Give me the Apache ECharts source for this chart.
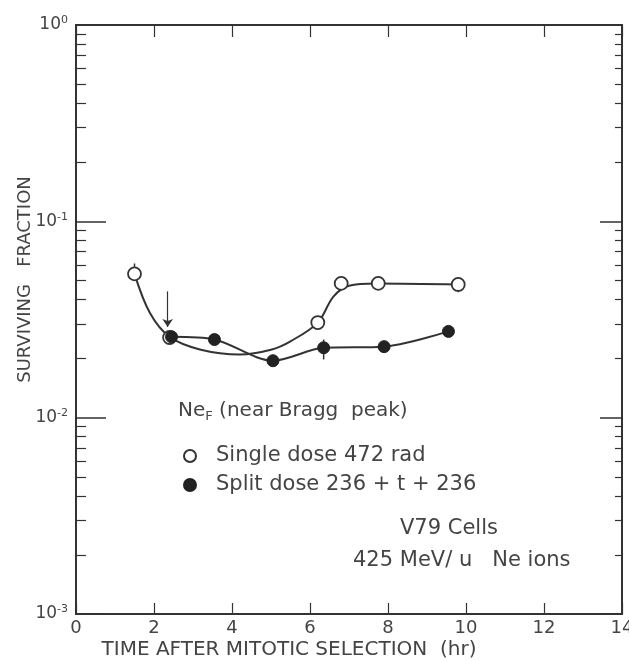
<!DOCTYPE html>
<html>
<head>
<meta charset="utf-8">
<script src="https://cdn.jsdelivr.net/npm/echarts@6/dist/echarts.min.js"></script>
<style>html,body{margin:0;padding:0;background:#fff}#c{width:629px;height:661px}</style>
</head>
<body>
<div id="c"></div>
<script>
// ---- data ----
const singleX = [1.5, 2.4, 6.2, 6.8, 7.75, 9.8];
const singleY = [0.054, 0.0256, 0.0305, 0.0483, 0.0483, 0.0477];
const splitX = [2.45, 3.55, 5.05, 6.35, 7.9, 9.55];
const splitY = [0.0258, 0.025, 0.0195, 0.0227, 0.0230, 0.0275];
// hand-drawn fitted curves
const curveSingleX = [1.5, 1.9, 2.4, 3.2, 4.2, 5.0, 5.5, 6.2, 6.6, 7.0, 7.7, 9.8];
const curveSingleY = [0.054, 0.034, 0.0258, 0.0222, 0.021, 0.0222, 0.0245, 0.0305, 0.0414, 0.047, 0.0483, 0.0477];
const curveSplitX = [2.45, 3.55, 5.05, 6.35, 7.9, 9.55];
const curveSplitY = [0.0258, 0.025, 0.0195, 0.0227, 0.0230, 0.0275];
// error bars
const errX = [1.5, 9.8, 6.35];
const errLo = [0.054, 0.0435, 0.0198];
const errHi = [0.061, 0.052, 0.025];
// arrow marking split time
const arrowX = 2.35;
const arrowTop = 0.044;
const arrowBottom = 0.0290;
// ticks
const xTicks = [0, 2, 4, 6, 8, 10, 12, 14];
const yMajor = [0.001, 0.01, 0.1, 1];
const yMinor = [];
[0.001, 0.01, 0.1].forEach(d => { for (let k = 2; k <= 9; k++) yMinor.push(+(d * k).toPrecision(3)); });
const seriesNames = ['Single dose 472 rad', 'Split dose 236 + t + 236'];

const INK = '#333';
const TXT = '#444';
const FONT = 'DejaVu Sans';

const zip = (a, b) => a.map((v, i) => [v, b[i]]);

function yAxisBase(extra) {
  return Object.assign({
    type: 'log', min: 0.001, max: 1, logBase: 10,
    splitLine: { show: false },
    axisLabel: { show: false },
    axisLine: { show: true, lineStyle: { color: INK, width: 2 } },
  }, extra);
}

const chart = echarts.init(document.getElementById('c'));
chart.setOption({
  backgroundColor: '#fff',
  animation: false,
  textStyle: { fontFamily: FONT },
  grid: { left: 76, top: 25, right: 7, bottom: 47, outerBoundsMode: 'none', containLabel: false },
  legend: {
    orient: 'vertical', left: 178, top: 440, itemGap: 7,
    itemWidth: 42, itemHeight: 12,
    data: seriesNames,
    textStyle: { fontFamily: FONT, fontSize: 21, lineHeight: 22, color: TXT }
  },
  xAxis: [
    {
      type: 'value', min: 0, max: 14, interval: 2, position: 'bottom',
      name: 'TIME AFTER MITOTIC SELECTION  (hr)', nameLocation: 'middle', nameGap: 26,
      nameMoveOverlap: false,
      nameTextStyle: { fontFamily: FONT, fontSize: 20, color: TXT, padding: [0, 120, 0, 0] },
      splitLine: { show: false },
      axisLine: { lineStyle: { color: INK, width: 2 } },
      axisTick: { inside: true, length: 11, lineStyle: { color: INK, width: 1.2 } },
      axisLabel: { fontFamily: FONT, fontSize: 18, color: TXT, margin: 5 }
    },
    {
      type: 'value', min: 0, max: 14, interval: 2, position: 'top',
      splitLine: { show: false },
      axisLine: { lineStyle: { color: INK, width: 2 } },
      axisTick: { inside: true, length: 12, lineStyle: { color: INK, width: 1.2 } },
      axisLabel: { show: false }
    }
  ],
  yAxis: [
    yAxisBase({
      position: 'left',
      name: 'SURVIVING   FRACTION', nameLocation: 'middle', nameGap: 42,
      nameMoveOverlap: false,
      nameTextStyle: { fontFamily: FONT, fontSize: 18, color: TXT, padding: [0, 0, 0, 80] },
      axisTick: { inside: true, length: 30, customValues: yMajor, lineStyle: { color: INK, width: 1.5 } },
      axisLabel: {
        show: true, customValues: yMajor, margin: 8,
        formatter: v => '{b|10}{s|' + Math.round(Math.log10(v)) + '}',
        rich: {
          b: { fontFamily: FONT, fontSize: 17, color: TXT },
          s: { fontFamily: FONT, fontSize: 11, color: TXT, verticalAlign: 'top', padding: [0, 0, 9, 0] }
        }
      }
    }),
    yAxisBase({
      position: 'left',
      axisTick: { inside: true, length: 10, customValues: yMinor, lineStyle: { color: INK, width: 1.2 } }
    }),
    yAxisBase({
      position: 'right',
      axisTick: { inside: true, length: 22, customValues: yMajor, lineStyle: { color: INK, width: 1.5 } }
    }),
    yAxisBase({
      position: 'right',
      axisTick: { inside: true, length: 7, customValues: yMinor, lineStyle: { color: INK, width: 1.2 } }
    })
  ],
  graphic: [
    {
      type: 'text', left: 178, top: 401,
      style: {
        text: '{a|Ne}{s|F}{a| (near Bragg  peak)}',
        rich: {
          a: { fontFamily: FONT, fontSize: 20, fill: TXT },
          s: { fontFamily: FONT, fontSize: 13, fill: TXT, padding: [12, 0, 0, 0] }
        }
      }
    },
    { type: 'text', left: 400, top: 518, style: { text: 'V79 Cells', fontFamily: FONT, fontSize: 21, fill: TXT } },
    { type: 'text', left: 353, top: 550, style: { text: '425 MeV/ u   Ne ions', fontFamily: FONT, fontSize: 21, fill: TXT } }
  ],
  series: [
    {
      name: 'curveSingle', type: 'line', smooth: 0.35, symbol: 'none', z: 2,
      data: zip(curveSingleX, curveSingleY),
      lineStyle: { color: INK, width: 2 },
      markLine: {
        silent: true, symbol: ['none', 'arrow'], symbolSize: 8,
        label: { show: false },
        lineStyle: { color: INK, width: 1.2, type: 'solid' },
        data: [[{ coord: [arrowX, arrowTop] }, { coord: [arrowX, arrowBottom] }]]
      }
    },
    {
      name: 'curveSplit', type: 'line', smooth: 0.3, symbol: 'none', z: 2,
      data: zip(curveSplitX, curveSplitY),
      lineStyle: { color: INK, width: 2 }
    },
    {
      name: 'errorbars', type: 'custom', z: 3,
      data: errX.map((x, i) => [x, errLo[i], errHi[i]]),
      encode: { x: 0, y: [1, 2] },
      renderItem: (params, api) => {
        const p1 = api.coord([api.value(0), api.value(1)]);
        const p2 = api.coord([api.value(0), api.value(2)]);
        return { type: 'line', shape: { x1: p1[0], y1: p1[1], x2: p2[0], y2: p2[1] }, style: { stroke: INK, lineWidth: 1.5 } };
      }
    },
    {
      name: seriesNames[0], type: 'scatter', z: 5, symbol: 'circle', symbolSize: 13,
      data: zip(singleX, singleY),
      itemStyle: { color: '#fff', borderColor: INK, borderWidth: 1.8, opacity: 1 }
    },
    {
      name: seriesNames[1], type: 'scatter', z: 6, symbol: 'circle', symbolSize: 12,
      data: zip(splitX, splitY),
      itemStyle: { color: '#222', borderColor: '#222', borderWidth: 1, opacity: 1 }
    }
  ]
});
</script>
</body>
</html>
